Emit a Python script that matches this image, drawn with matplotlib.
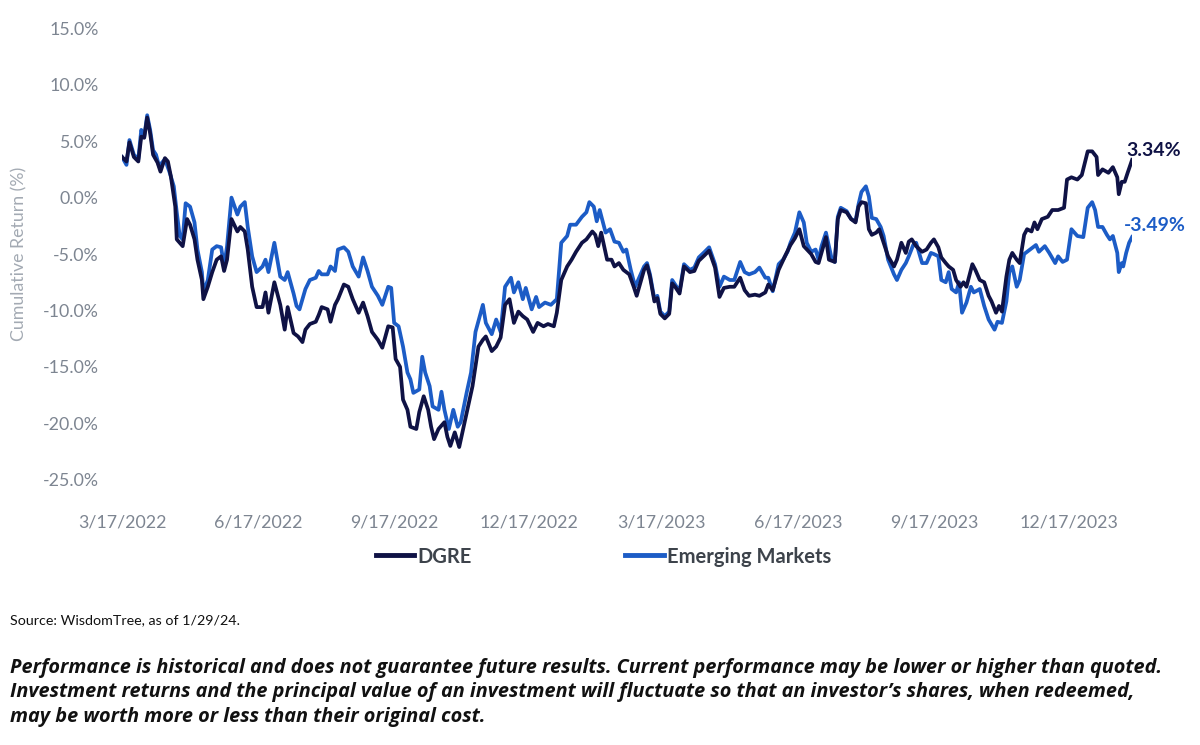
import matplotlib
matplotlib.use("Agg")
import matplotlib.pyplot as plt
import pandas as pd
import numpy as np

start_date = "2022-03-17"

# day offsets from start_date and cumulative return (%)
em_days = [0, 3, 5, 8, 11, 13, 15, 17, 19, 21, 23, 25, 29, 32, 35, 37, 39, 41, 43, 46,
           49, 51, 54, 55, 58, 61, 64, 67, 69, 71, 74, 78, 80, 83, 85, 88, 91, 95, 97, 99,
           103, 107, 110, 112, 116, 118, 120, 124, 127, 131, 133, 135, 139, 141, 144, 146, 150, 153, 156, 160,
           163, 166, 169, 173, 176, 180, 182, 184, 187, 190, 193, 195, 197, 201, 203, 205, 208, 210, 214, 216,
           218, 221, 224, 227, 229, 233, 236, 239, 244, 246, 250, 253, 256, 259, 263, 265, 268, 271, 273, 277,
           280, 282, 286, 290, 294, 297, 301, 303, 307, 311, 314, 316, 319, 321, 323, 327, 330, 333, 336, 339,
           341, 344, 347, 350, 353, 355, 357, 360, 362, 364, 367, 370, 372, 374, 377, 380, 384, 387, 390, 394,
           397, 401, 404, 407, 411, 414, 418, 421, 424, 428, 431, 435, 437, 440, 444, 447, 450, 452, 455, 458,
           461, 463, 466, 469, 471, 473, 476, 478, 480, 482, 484, 486, 490, 493, 496, 498, 500, 503, 505, 507,
           510, 513, 515, 518, 522, 524, 527, 530, 532, 535, 537, 541, 544, 547, 549, 552, 554, 557, 559, 561,
           564, 566, 568, 571, 574, 576, 580, 583, 586, 590, 592, 595, 598, 600, 602, 605, 607, 610, 612, 616,
           618, 620, 624, 627, 631, 633, 636, 639, 642, 644, 646, 650, 653, 656, 658, 660, 663, 666, 668, 670,
           673, 674, 676, 677, 679, 681, 683]
em_vals = [3.6, 2.9, 5.1, 3.8, 3.4, 6.0, 5.4, 7.3, 6.0, 4.2, 3.8, 2.8, 3.4, 2.3, 1.0, -1.3, -3.4, -3.7, -0.5, -0.8,
           -2.2, -4.6, -6.6, -8.4, -7.3, -4.6, -4.3, -4.4, -6.1, -4.3, 0.0, -1.5, -0.8, -0.4, -2.6, -5.2, -6.6, -6.1, -5.5, -6.6,
           -4.0, -7.0, -7.3, -6.6, -8.5, -9.6, -9.9, -8.1, -7.3, -7.1, -6.5, -6.8, -6.8, -6.1, -6.5, -4.6, -4.4, -4.8, -6.1, -7.0,
           -5.3, -6.5, -7.9, -8.7, -9.5, -7.9, -8.0, -11.1, -11.4, -13.2, -15.5, -16.1, -17.3, -17.0, -14.1, -15.5, -16.7, -18.5, -18.8, -17.2,
           -18.8, -20.5, -18.8, -20.3, -19.9, -17.3, -15.5, -11.9, -9.5, -11.1, -12.1, -10.8, -11.9, -7.9, -7.1, -8.4, -7.5, -9.0, -8.0, -9.9,
           -8.8, -9.7, -9.3, -9.5, -9.0, -4.0, -3.4, -2.4, -2.4, -1.7, -1.3, -0.4, -0.8, -2.1, -1.1, -3.1, -2.8, -3.9, -4.0, -4.8,
           -4.6, -6.4, -7.9, -7.0, -6.1, -5.8, -6.8, -9.0, -8.7, -10.1, -10.5, -10.1, -7.3, -7.7, -8.3, -5.9, -6.4, -6.2, -5.3, -4.8,
           -4.4, -5.9, -7.9, -7.0, -7.3, -7.3, -5.7, -6.6, -6.8, -6.6, -6.2, -7.1, -7.1, -8.3, -5.9, -5.5, -4.8, -4.0, -3.1, -1.3,
           -2.2, -4.0, -4.8, -4.6, -5.5, -4.3, -3.1, -4.3, -5.5, -5.7, -1.7, -0.9, -1.2, -1.9, -2.1, -0.6, 0.5, 1.0, 0.1, -1.8,
           -1.9, -2.6, -3.4, -5.5, -6.8, -7.3, -6.4, -5.8, -5.2, -4.2, -4.0, -5.8, -5.8, -4.9, -5.0, -5.2, -7.3, -7.5, -6.6, -8.1,
           -8.4, -7.5, -10.2, -9.3, -7.9, -8.4, -8.1, -9.6, -10.8, -11.7, -11.0, -11.1, -9.2, -6.6, -6.1, -7.9, -7.3, -5.0, -4.8, -4.4,
           -4.2, -4.8, -4.3, -4.9, -5.8, -5.2, -5.7, -5.5, -2.8, -3.1, -3.4, -3.5, -0.9, -0.4, -1.1, -2.6, -2.6, -3.3, -3.7, -3.4,
           -4.9, -6.6, -5.8, -6.1, -4.9, -4.0, -3.49]

dgre_days = [0, 3, 5, 8, 11, 13, 15, 17, 19, 21, 24, 26, 29, 31, 33, 36, 37, 41, 44, 46,
             49, 51, 54, 55, 58, 61, 64, 67, 69, 71, 74, 78, 80, 83, 85, 88, 91, 95, 97, 99,
             103, 107, 110, 112, 116, 119, 122, 124, 127, 131, 133, 135, 139, 141, 144, 146, 150, 153, 156, 160,
             163, 166, 169, 173, 176, 180, 183, 185, 188, 190, 193, 195, 199, 201, 204, 207, 209, 211, 214, 218,
             220, 222, 225, 228, 231, 234, 237, 241, 244, 246, 250, 253, 256, 259, 262, 265, 268, 271, 274, 278,
             281, 285, 288, 292, 294, 297, 301, 304, 307, 311, 314, 318, 320, 322, 324, 328, 331, 333, 336, 339,
             343, 346, 348, 351, 353, 355, 357, 360, 362, 364, 367, 370, 372, 374, 377, 380, 384, 387, 390, 394,
             397, 401, 404, 407, 411, 414, 418, 421, 424, 428, 431, 435, 437, 440, 444, 449, 452, 455, 458, 461,
             466, 469, 471, 476, 478, 482, 484, 486, 490, 493, 496, 498, 500, 503, 505, 507, 510, 512, 515, 518,
             522, 524, 527, 530, 532, 534, 537, 541, 544, 547, 549, 552, 554, 557, 559, 562, 564, 567, 569, 571,
             575, 577, 580, 583, 586, 588, 591, 593, 595, 598, 600, 602, 605, 607, 610, 612, 615, 617, 619, 622,
             626, 629, 633, 637, 639, 642, 646, 649, 653, 656, 659, 660, 663, 667, 670, 673, 674, 676, 678, 680,
             683]
dgre_vals = [3.6, 3.2, 4.9, 3.6, 3.2, 5.4, 5.3, 7.1, 5.7, 3.8, 3.1, 2.3, 3.5, 3.2, 1.9, -0.8, -3.7, -4.3, -1.9, -2.4,
             -3.7, -5.5, -7.3, -9.0, -7.9, -6.6, -5.5, -5.2, -6.5, -5.5, -1.9, -3.0, -2.6, -3.0, -4.6, -7.9, -9.7, -9.7, -8.4, -10.2,
             -7.5, -9.5, -11.7, -9.7, -12.0, -12.3, -12.8, -11.7, -11.2, -11.0, -10.4, -9.7, -9.9, -11.0, -9.5, -9.0, -7.7, -7.9, -9.0, -10.2,
             -9.3, -10.5, -11.9, -12.6, -13.3, -11.4, -11.5, -14.3, -15.0, -17.9, -18.8, -20.3, -20.5, -19.0, -17.6, -18.8, -20.3, -21.4, -20.5, -19.9,
             -21.2, -22.0, -20.8, -22.1, -20.3, -18.5, -16.7, -13.2, -12.6, -12.3, -13.6, -13.2, -12.4, -9.5, -9.0, -11.1, -10.1, -10.5, -10.8, -11.9,
             -11.1, -11.4, -11.2, -11.4, -10.2, -7.3, -6.1, -5.5, -4.8, -4.0, -3.7, -3.0, -3.3, -4.3, -3.1, -5.5, -5.5, -6.1, -5.8, -6.4,
             -6.8, -7.9, -8.7, -7.3, -6.4, -6.0, -7.0, -9.2, -8.9, -10.3, -10.7, -10.3, -7.6, -7.9, -8.5, -6.1, -6.6, -6.5, -5.6, -5.1,
             -4.7, -6.2, -8.8, -8.0, -7.9, -7.9, -7.1, -8.2, -8.7, -8.6, -8.7, -8.4, -7.7, -8.2, -6.4, -5.0, -4.2, -3.6, -2.8, -4.3,
             -5.0, -5.7, -5.8, -3.5, -5.5, -5.7, -1.9, -1.1, -1.3, -1.9, -2.2, -0.8, -0.4, -0.5, -2.8, -3.3, -3.1, -2.8, -4.0, -5.2,
             -6.1, -5.5, -4.0, -4.9, -3.9, -3.7, -4.3, -4.8, -4.6, -4.0, -3.7, -4.4, -5.3, -5.8, -6.1, -6.4, -7.3, -7.9, -7.5, -7.9,
             -5.9, -6.4, -7.3, -7.5, -8.7, -9.2, -10.2, -9.6, -10.1, -7.0, -5.5, -4.9, -5.5, -5.8, -3.3, -2.8, -3.0, -2.2, -2.8, -1.9,
             -1.7, -1.1, -1.1, -0.9, 1.6, 1.8, 1.6, 2.0, 4.1, 4.1, 3.6, 2.0, 2.5, 2.2, 2.7, 1.8, 0.3, 1.4, 1.4, 2.2,
             3.34]

tick_dates = ["2022-03-17", "2022-06-17", "2022-09-17", "2022-12-17",
              "2023-03-17", "2023-06-17", "2023-09-17", "2023-12-17"]
tick_labels = ["3/17/2022", "6/17/2022", "9/17/2022", "12/17/2022",
               "3/17/2023", "6/17/2023", "9/17/2023", "12/17/2023"]
y_ticks = [15, 10, 5, 0, -5, -10, -15, -20, -25]

series_names = ["DGRE", "Emerging Markets"]
end_labels = ["3.34%", "-3.49%"]

DGRE_C = "#0f1245"
EM_C = "#1c5cc6"
TICK_C = "#7d8591"

plt.rcParams['font.family'] = ['Lato', 'DejaVu Sans']

base = pd.Timestamp(start_date)
em_dates = base + pd.to_timedelta(em_days, unit="D")
dgre_dates = base + pd.to_timedelta(dgre_days, unit="D")

fig = plt.figure(figsize=(12, 7.45), dpi=100)
ax = fig.add_axes([0.1017, 0.356, 0.8417, 0.606])

l1, = ax.plot(dgre_dates, dgre_vals, color=DGRE_C, lw=2.7, solid_joinstyle="round", zorder=3)
l2, = ax.plot(em_dates, em_vals, color=EM_C, lw=2.7, solid_joinstyle="round", zorder=2)

ax.set_xlim(base, base + pd.Timedelta(days=683))
ax.set_ylim(-25, 15)
ax.set_yticks(y_ticks)
ax.set_yticklabels([f"{v:.1f}%" for v in y_ticks], color=TICK_C, fontsize=12.8)
ax.set_xticks(pd.to_datetime(tick_dates))
ax.set_xticklabels(tick_labels, color=TICK_C, fontsize=12.8)
ax.tick_params(axis="both", length=0)
ax.tick_params(axis="y", pad=17)
ax.tick_params(axis="x", pad=25)
for s in ax.spines.values():
    s.set_visible(False)

fig.text(0.016, 0.659, "Cumulative Return (%)", rotation=90, ha="center", va="center",
         color="#a3aab3", fontsize=12.8)

ax.annotate(end_labels[0], xy=(dgre_dates[-1], dgre_vals[-1]), xytext=(-4, 7),
            textcoords="offset points", color=DGRE_C, fontsize=14, fontweight="bold",
            ha="left", va="center")
ax.annotate(end_labels[1], xy=(em_dates[-1], em_vals[-1]), xytext=(-6, 8),
            textcoords="offset points", color=EM_C, fontsize=14, fontweight="bold",
            ha="left", va="center")

leg_font = {"weight": "bold", "size": 14.5}
leg1 = fig.legend([l1], [series_names[0]], loc="center left", bbox_to_anchor=(0.298, 0.253),
                  frameon=False, handlelength=1.9, handletextpad=0.15, prop=leg_font)
leg2 = fig.legend([l2], [series_names[1]], loc="center left", bbox_to_anchor=(0.506, 0.253),
                  frameon=False, handlelength=1.9, handletextpad=0.15, prop=leg_font)
for leg in (leg1, leg2):
    for t in leg.get_texts():
        t.set_color("#3d434b")
    for h in leg.get_lines():
        h.set_linewidth(3.5)

fig.text(0.008, 0.168, "Source: WisdomTree, as of 1/29/24.", fontsize=10.3, color="#111111",
         ha="left", va="center")
footer = ("Performance is historical and does not guarantee future results. Current performance may be lower or higher than quoted.\n"
          "Investment returns and the principal value of an investment will fluctuate so that an investor\u2019s shares, when redeemed,\n"
          "may be worth more or less than their original cost.")
fig.text(0.008, 0.071, footer, fontsize=14.35, fontweight="bold", fontstyle="italic",
         color="#111111", ha="left", va="center", linespacing=1.3, family=["Open Sans", "DejaVu Sans"])

fig.savefig("out.png", dpi=100)
